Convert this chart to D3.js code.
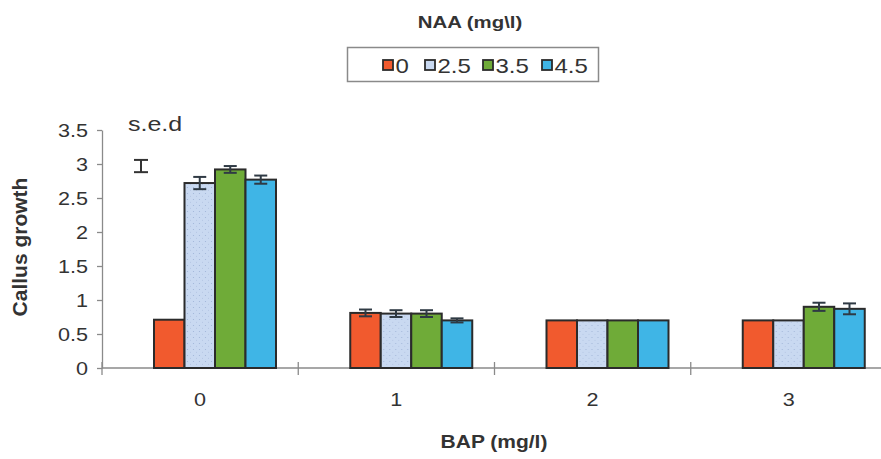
<!DOCTYPE html>
<html>
<head>
<meta charset="utf-8">
<script src="https://cdn.jsdelivr.net/npm/d3@7"></script>
<style>
  html, body { margin: 0; padding: 0; background: #ffffff; }
  svg { display: block; font-family: "Liberation Sans", Arial, sans-serif; }
</style>
</head>
<body>
<svg id="chart" width="881" height="459"></svg>
<script>
// BAP concentrations (x categories) and NAA concentrations (series)
const bapLevels = ["0", "1", "2", "3"];
const naaLevels = ["0", "2.5", "3.5", "4.5"];

// Callus growth per NAA level, one value per BAP level
const naa0  = [0.71, 0.81, 0.70, 0.70];
const naa25 = [2.72, 0.80, 0.70, 0.70];
const naa35 = [2.92, 0.80, 0.70, 0.90];
const naa45 = [2.77, 0.70, 0.70, 0.87];

// Error bar half-heights per series
const err0  = [0, 0.05, 0, 0];
const err25 = [0.09, 0.05, 0, 0];
const err35 = [0.05, 0.05, 0, 0.06];
const err45 = [0.06, 0.03, 0, 0.08];

const yTicks = [0, 0.5, 1, 1.5, 2, 2.5, 3, 3.5];
const sedValue = 0.18;     // size of the s.e.d reference bar
const sedCentre = 2.97;

const seriesValues = [naa0, naa25, naa35, naa45];
const seriesErrors = [err0, err25, err35, err45];
const colors = ["#f15a2e", "#c9d9f1", "#6fab38", "#3fb5e6"];

const svg = d3.select("#chart");
const axisColor = "#8a8a8a";
const inkColor = "#2b2b2b";
const textColor = "#333333";

// Stipple used on the pale blue bars
const defs = svg.append("defs");
const pat = defs.append("pattern")
  .attr("id", "stipple").attr("patternUnits", "userSpaceOnUse")
  .attr("width", 6).attr("height", 6);
pat.append("rect").attr("width", 6).attr("height", 6).attr("fill", colors[1]);
pat.append("circle").attr("cx", 1.5).attr("cy", 1.5).attr("r", 0.6).attr("fill", "#9fb4d6");
pat.append("circle").attr("cx", 4.5).attr("cy", 4.2).attr("r", 0.5).attr("fill", "#aebfe0");

const plotLeft = 102, plotRight = 887, plotTop = 130, plotBottom = 368;

const x = d3.scaleBand().domain(bapLevels).range([plotLeft, plotRight]).paddingInner(0).paddingOuter(0);
const y = d3.scaleLinear().domain([0, 3.5]).range([plotBottom, plotTop]);
// the bar cluster sits slightly right of the centre of each category
const groupStart = 52, groupEnd = 174;
const xs = d3.scaleBand().domain(naaLevels).range([groupStart, groupEnd]).padding(0);

// horizontally widened text helper
function stretchText(sel, px, py, sx) {
  sel.attr("transform", `translate(${px},${py}) scale(${sx},1)`);
  return sel;
}

// y axis
const yAxis = svg.append("g").attr("transform", `translate(${plotLeft},0)`)
  .call(d3.axisLeft(y).tickValues(yTicks).tickSize(5).tickSizeOuter(0).tickFormat(d => String(d)));
yAxis.select(".domain").attr("stroke", axisColor).attr("stroke-width", 1.3);
yAxis.selectAll(".tick line").attr("stroke", axisColor).attr("stroke-width", 1.3);
yAxis.selectAll(".tick text").each(function(d) {
  const t = d3.select(this);
  t.attr("x", null).attr("dy", null)
   .attr("text-anchor", "end").attr("fill", textColor)
   .style("font-size", "18px");
  stretchText(t, -14, 6.5, 1.2);
});

// x axis: baseline, boundary ticks, centred labels
const xAxis = svg.append("g");
xAxis.append("line")
  .attr("x1", plotLeft).attr("x2", 881).attr("y1", y(0)).attr("y2", y(0))
  .attr("stroke", axisColor).attr("stroke-width", 1.3);
xAxis.selectAll("line.sep").data(bapLevels).join("line").attr("class", "sep")
  .attr("x1", d => x(d)).attr("x2", d => x(d))
  .attr("y1", y(0) - 6).attr("y2", y(0) + 7)
  .attr("stroke", axisColor).attr("stroke-width", 1.3);
xAxis.selectAll("text").data(bapLevels).join("text")
  .attr("text-anchor", "middle").attr("fill", textColor)
  .style("font-size", "18px")
  .text(d => d)
  .each(function(d) { stretchText(d3.select(this), x(d) + x.bandwidth() / 2, 406, 1.2); });

// bars
const groups = svg.append("g").selectAll("g").data(bapLevels).join("g")
  .attr("transform", d => `translate(${x(d)},0)`);

groups.each(function(cat, ci) {
  const g = d3.select(this);
  naaLevels.forEach((s, si) => {
    const v = seriesValues[si][ci];
    g.append("rect")
      .attr("x", xs(s)).attr("width", xs.bandwidth())
      .attr("y", y(v)).attr("height", y(0) - y(v))
      .attr("fill", si === 1 ? "url(#stipple)" : colors[si])
      .attr("stroke", inkColor).attr("stroke-width", 2);
  });
  naaLevels.forEach((s, si) => {
    const v = seriesValues[si][ci];
    const e = seriesErrors[si][ci];
    if (e <= 0) return;
    const cx = xs(s) + xs.bandwidth() / 2;
    const eb = g.append("g").attr("stroke", "#2f3a44").attr("stroke-width", 2);
    eb.append("line").attr("x1", cx).attr("x2", cx).attr("y1", y(v + e)).attr("y2", y(v - e));
    eb.append("line").attr("x1", cx - 6.5).attr("x2", cx + 6.5).attr("y1", y(v + e)).attr("y2", y(v + e));
    eb.append("line").attr("x1", cx - 6.5).attr("x2", cx + 6.5).attr("y1", y(v - e)).attr("y2", y(v - e));
  });
});

// s.e.d reference
stretchText(svg.append("text").attr("fill", textColor).style("font-size", "20px").text("s.e.d"), 128, 131, 1.25);
const sed = svg.append("g").attr("stroke", "#333").attr("stroke-width", 2);
const sedX = 141;
sed.append("line").attr("x1", sedX).attr("x2", sedX)
  .attr("y1", y(sedCentre + sedValue / 2)).attr("y2", y(sedCentre - sedValue / 2));
sed.append("line").attr("x1", sedX - 7).attr("x2", sedX + 7)
  .attr("y1", y(sedCentre + sedValue / 2)).attr("y2", y(sedCentre + sedValue / 2));
sed.append("line").attr("x1", sedX - 7).attr("x2", sedX + 7)
  .attr("y1", y(sedCentre - sedValue / 2)).attr("y2", y(sedCentre - sedValue / 2));

// titles
stretchText(svg.append("text").attr("text-anchor", "middle").attr("fill", textColor)
  .style("font-size", "17px").style("font-weight", "bold").text("NAA (mg\\l)"), 470, 28, 1.2);
stretchText(svg.append("text").attr("text-anchor", "middle").attr("fill", textColor)
  .style("font-size", "17.5px").style("font-weight", "bold").text("BAP (mg/l)"), 494, 448, 1.2);
svg.append("text").attr("text-anchor", "middle").attr("fill", textColor)
  .style("font-size", "21px").style("font-weight", "bold")
  .attr("transform", `translate(27,247) rotate(-90)`)
  .text("Callus growth");

// legend
const legend = svg.append("g");
legend.append("rect").attr("x", 347.5).attr("y", 47.5).attr("width", 251).attr("height", 34)
  .attr("fill", "#fff").attr("stroke", "#8a8a8a").attr("stroke-width", 1.5);
const legendX = [383, 425, 483, 542];
naaLevels.forEach((s, si) => {
  legend.append("rect").attr("x", legendX[si]).attr("y", 60).attr("width", 10).attr("height", 10)
    .attr("fill", si === 1 ? colors[1] : colors[si]).attr("stroke", inkColor).attr("stroke-width", 1.8);
  stretchText(legend.append("text").attr("fill", textColor).style("font-size", "20px").text(s),
    legendX[si] + 12.5, 73, 1.2);
});
</script>
</body>
</html>
